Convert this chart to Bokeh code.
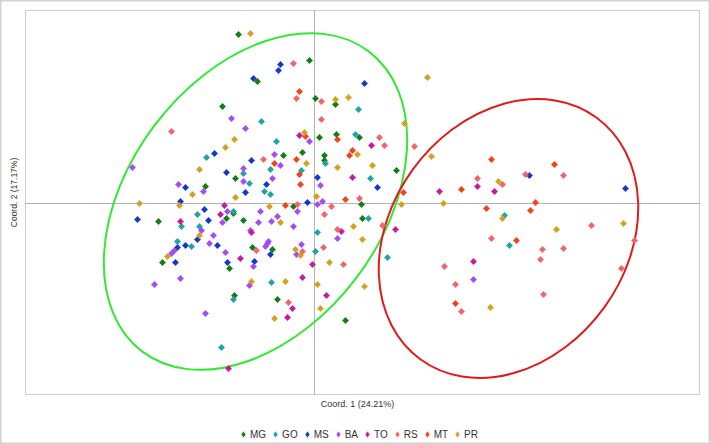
import math
from bokeh.plotting import figure
from bokeh.models import Legend, LegendItem, Range1d, BoxAnnotation, Label
from bokeh.embed import file_html
from bokeh.resources import INLINE

# ---- data (PCoA coordinates) ----
groups = ["MG", "GO", "MS", "BA", "TO", "RS", "MT", "PR"]
colors = ["#137d13", "#1fa3a3", "#1338c8", "#a34cf5", "#c81aa0", "#f0646a", "#f04318", "#d4a020"]

mg_x = [-0.76, -0.05, -0.57, 0.01, -0.92, 0.05, -0.12, -0.31, 0.10, 0.10, 0.21, 0.22, 0.45, 0.82, -0.79,
        -1.09, -0.21, 0.47, 0.48, -0.81, -0.88, -1.56, -0.71, -0.62, -0.42, -1.52, -0.85, -0.80, -0.37, 0.31]
mg_y = [1.69, 1.43, 1.22, 1.05, 0.97, 0.66, 0.51, 0.48, 0.48, 0.43, 0.99, 0.69, 0.66, 0.33, 0.25,
        0.17, -0.03, -0.01, -0.15, -0.10, -0.15, -0.18, -0.17, -0.44, -0.46, -0.59, -0.65, -0.92, -0.96, -1.17]

go_x = [-0.53, -0.38, -1.08, 0.11, -0.44, -0.13, 0.44, 0.41, 0.56, -0.71, -0.65, -0.50, -0.44, -0.81,
        -1.17, -1.33, -1.15, 0.03, -1.37, -1.23, 0.01, 0.54, 0.73, -0.43, -0.81, -0.93, 1.90, 1.95]
go_y = [0.82, 0.62, 0.46, 0.40, 0.34, 0.33, 0.94, 0.69, 0.25, 0.30, 0.20, 0.12, 0.09, -0.08,
        -0.11, -0.23, -0.23, -0.29, -0.38, -0.43, -0.48, -0.15, -0.54, -0.79, -0.96, -1.44, -0.12, -0.42]

ms_x = [-0.34, -0.36, -0.61, -1.00, -0.63, 0.50, -0.88, -0.48, -1.29, -0.69, -1.34, -0.07, 0.03, 0.63,
        -1.10, -1.77, -1.06, -1.17, -1.29, -0.97, -1.37, -0.44, -1.39, -0.87, -0.60, 2.15, 3.11]
ms_y = [1.39, 1.33, 1.25, 0.50, 0.43, 1.20, 0.31, 0.19, 0.16, 0.11, 0.02, 0.01, 0.26, 0.16,
        -0.06, -0.16, -0.17, -0.36, -0.42, -0.42, -0.44, -0.51, -0.59, -0.59, -0.58, 0.28, 0.15]

ba_x = [-0.83, -0.69, -0.05, -0.40, -0.34, -0.71, -1.82, -0.42, -0.71, 0.06, -1.36, -1.11, 0.03, 0.08,
        -0.87, -0.54, -0.17, -0.37, -0.92, -0.56, -0.43, -1.13, -0.21, -0.64, -1.01, -1.05, -0.46, -0.47,
        -0.49, -0.13, 0.23, -1.40, -1.43, -0.89, -0.18, -0.61, -1.34, -1.60, -0.65, -1.09, 1.59]
ba_y = [0.85, 0.75, 0.62, 0.49, 0.38, 0.35, 0.36, 0.25, 0.22, 0.18, 0.19, 0.12, -0.01, 0.02,
        -0.08, -0.08, -0.08, -0.13, -0.19, -0.19, -0.18, -0.27, -0.23, -0.27, -0.32, -0.40, -0.38, -0.40,
        -0.43, -0.41, -0.35, -0.47, -0.50, -0.49, -0.51, -0.63, -0.75, -0.81, -0.82, -1.10, -0.76]

to_x = [-0.15, 0.57, 0.38, -0.90, -0.94, -1.34, -0.63, -0.74, -0.02, 0.27, 0.81, -0.12, 0.12, -0.22,
        -0.27, -0.86, 1.25, 1.63, 1.80, 1.59]
to_y = [0.68, 0.58, 0.26, -0.02, -0.11, -0.18, -0.29, -0.55, -0.61, -0.28, -0.26, -0.74, -0.92, -1.05,
        -1.14, -1.65, 0.12, 0.17, 0.12, -0.58]

rs_x = [-0.21, -0.18, 0.07, 0.07, -1.43, -0.51, 0.65, 0.70, 1.00, 0.45, -0.17, 0.17, 0.10, 0.68, 0.23,
        0.09, -0.12, -0.58, 0.29, -0.26, 2.11, 2.49, 1.63, 1.88, 2.77, 3.20, 1.77, 2.28, 2.49, 2.26, 1.30,
        3.07, 1.41, 2.29, 1.47]
rs_y = [1.40, 1.05, 1.02, 0.84, 0.72, 0.44, 0.66, 0.58, 0.57, 0.05, -0.01, -0.03, -0.11, -0.22, -0.26,
        -0.44, -0.48, -0.47, -0.61, -0.99, 0.29, 0.28, 0.25, 0.19, -0.22, -0.37, -0.35, -0.46, -0.45, -0.56,
        -0.63, -0.65, -0.81, -0.91, -1.08]

mt_x = [-0.15, -0.09, -0.18, -0.40, 0.23, 0.38, 0.35, -0.15, -0.14, 0.31, -0.29, 0.89, 1.77, 2.40, 1.47,
        2.21, 1.72, 2.16, 2.02, 1.41]
mt_y = [1.12, 0.67, 0.44, 0.40, 0.64, 0.53, 0.48, 0.29, 0.19, 0.04, -0.02, 0.11, 0.44, 0.39, 0.14,
        0.01, -0.05, -0.07, -0.37, -1.00]

pr_x = [-0.64, -0.10, -0.80, -0.89, -0.08, 1.13, 0.21, 0.34, 0.90, 1.17, 0.43, 0.23, 0.58, 0.02, 0.87,
        0.39, 0.48, 0.15, -0.14, -1.15, -1.22, -0.79, -1.75, -1.35, -0.45, -0.34, -1.15, -0.19, -1.47,
        -0.63, -0.29, 0.03, 0.50, 0.06, -0.40, 1.84, 1.29, 1.88, 2.42, 3.09, 1.76]
pr_y = [1.70, 0.71, 0.64, 0.56, 0.40, 1.26, 1.04, 1.06, 0.80, 0.47, 0.49, 0.36, 0.38, 0.07, -0.01,
        -0.23, -0.36, -0.59, -0.52, 0.34, 0.09, 0.06, 0.00, -0.02, -0.03, -0.19, -0.32, -0.46, -0.53,
        -0.78, -0.78, -0.81, -0.83, -1.05, -1.15, 0.22, 0.00, -0.15, -0.26, -0.20, -1.04]

series_x = [mg_x, go_x, ms_x, ba_x, to_x, rs_x, mt_x, pr_x]
series_y = [mg_y, go_y, ms_y, ba_y, to_y, rs_y, mt_y, pr_y]

# confidence ellipses: centre x, centre y, major, minor, angle (deg)
ell_green = [-0.59, 0.02, 3.76, 2.53, 53]
ell_red = [1.94, -0.35, 2.99, 2.36, 54]

x_label = "Coord. 1 (24.21%)"
y_label = "Coord. 2 (17.17%)"

# ---- layout constants (plot box limits in data units; canvas covers a bit more) ----
box_x0, box_x1, box_y0, box_y1 = -2.89, 3.85, -1.91, 1.93
W, H = 710, 444
NAN = float("nan")

p = figure(width=W, height=H, output_backend="svg", toolbar_location=None,
           x_range=Range1d(-3.14, 3.96), y_range=Range1d(-2.41, 2.03),
           x_axis_location=None, y_axis_location=None, min_border=0)
p.min_border_left = p.min_border_right = p.min_border_top = p.min_border_bottom = 0
p.xgrid.visible = False
p.ygrid.visible = False
p.outline_line_color = "#d2d2d2"
p.outline_line_width = 2
p.background_fill_color = "white"
p.border_fill_color = "white"

# zero lines across the plot box
p.segment(x0=[0, box_x0], y0=[box_y0, 0], x1=[0, box_x1], y1=[box_y1, 0],
          line_color="#b4b4b4", line_width=1)

for e, c in ((ell_green, "#33e833"), (ell_red, "#e01b1b")):
    p.ellipse(x=[e[0]], y=[e[1]], width=[e[2]], height=[e[3]], angle=math.radians(e[4]),
              fill_color=None, line_color=c, line_width=2)

items = []
for g, c, xs, ys in zip(groups, colors, series_x, series_y):
    p.scatter(xs, ys, marker="square", angle=math.pi / 4, size=4.5,
              fill_color=c, line_color=c, line_width=0.5)
    # legend key only (a diamond, never drawn in the plot area)
    key = p.scatter(x=[NAN], y=[NAN], marker="diamond", fill_color=c, line_color=c, line_width=0.5)
    items.append(LegendItem(label=g, renderers=[key]))

# plot box frame
p.add_layout(BoxAnnotation(left=box_x0, right=box_x1, bottom=box_y0, top=box_y1,
                           fill_alpha=0, fill_color=None, line_color="#555555", line_width=1))

p.add_layout(Label(x=357, y=H - 403, x_units="screen", y_units="screen", text=x_label,
                   text_align="center", text_baseline="middle", text_font="Liberation Sans",
                   text_font_size="9px", text_color="#333333"))
p.add_layout(Label(x=13, y=H - 192, x_units="screen", y_units="screen", text=y_label,
                   angle=math.pi / 2, text_align="center", text_baseline="middle",
                   text_font="Liberation Sans", text_font_size="8.5px", text_color="#333333"))

legend = Legend(items=items, orientation="horizontal", location=(236, 3),
                glyph_width=14, glyph_height=14, label_standoff=0, spacing=2,
                padding=0, margin=0, label_width=1, label_height=10,
                border_line_color=None, background_fill_alpha=0,
                label_text_font="Liberation Sans", label_text_font_size="10px",
                label_text_color="#333333")
p.add_layout(legend)

open("out.html", "w").write(file_html(p, INLINE))
